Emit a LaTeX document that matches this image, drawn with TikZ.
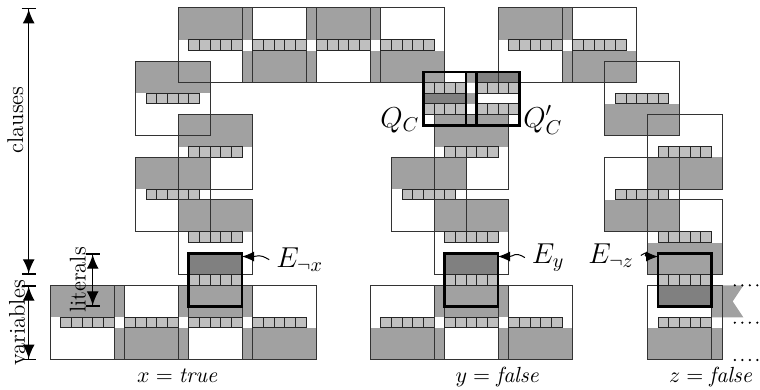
\documentclass[tikz,border=0pt]{standalone}
\usetikzlibrary{arrows.meta}
\begin{document}
\begin{tikzpicture}[x=0.1875cm, y=-0.1875cm,
    every node/.style={font=\fontsize{11.4pt}{13pt}\selectfont},
    region/.style={fill=black!37},
    darkregion/.style={fill=black!50},
    lit/.style={fill=black!25, draw=black!85, line width=0.5pt},
    blockline/.style={draw=black!80, line width=0.5pt},
    gadget/.style={draw=black, line width=1.3pt},
    span/.style={{Bar[width=7pt,line width=0.7pt]Latex[length=7pt,width=6pt]}-{Latex[length=7pt,width=6pt]Bar[width=7pt,line width=0.7pt]}, line width=0.7pt},
    pointer/.style={-{Latex[length=6pt,width=5pt]}, line width=0.5pt},
    tag/.style={font=\Large}]
  \useasboundingbox (-16.69,-0.75) rectangle (54.56,35.81);

  % gray halves of the blocks
  \foreach \x/\y in {0/0, 12/0, 30/0, -4/5, 0/10, -4/14, 0/18, 24/10, 20/14, 24/18, -12/26, 0/26, 24/26}
    \fill[region] (\x,\y) rectangle ++(7,3);
  \foreach \x/\y in {6/0, 18/0, 36/0, 40/5, 44/10, 40/14, 44/18, -6/26, 6/26, 18/26, 30/26, 44/26}
    \fill[region] (\x,\y+4) rectangle ++(7,3);
  \fill[region] (50,26) -- (53,26) -- (52,27.5) -- (53,29) -- (50,29) -- cycle;
  \foreach \y in {6,8,10}
    \fill[region] (27,\y) rectangle ++(1,1);

  % dark parts of the gadgets
  \fill[darkregion] (1,23) rectangle (6,25);
  \fill[darkregion] (25,23) rectangle (30,25);
  \fill[darkregion] (45,26) rectangle (50,28);
  \fill[darkregion] (23,8) rectangle (27,9);
  \fill[darkregion] (28,6) rectangle (32,7);

  % blocks with their literals
  \foreach \x/\y in {0/0, 6/0, 12/0, 18/0, 30/0, 36/0,
                     -4/5, 0/10, -4/14, 0/18, 24/10, 20/14, 24/18,
                     40/5, 44/10, 40/14, 44/18,
                     -12/26, -6/26, 0/26, 6/26, 18/26, 24/26, 30/26, 44/26} {
    \foreach \i in {1,...,5}
      \draw[lit] (\x+\i,\y+3) rectangle ++(1,1);
    \draw[blockline] (\x,\y) rectangle ++(7,7);
  }
  \draw[blockline] (50,26) -- (50,33);
  \foreach \y in {26,29.5,33}
    \draw[line width=1.2pt, line cap=round, dash pattern=on 0pt off 3.75pt] (52.2,\y) -- (55,\y);

  % gadgets
  \foreach \x in {1,25,45}
    \foreach \i in {0,...,4}
      \draw[lit] (\x+\i,25) rectangle ++(1,1);
  \foreach \y in {7,9}
    \foreach \x in {23,24,25,26,28,29,30,31}
      \draw[lit] (\x,\y) rectangle ++(1,1);
  \draw[gadget] (1,23) rectangle ++(5,5);
  \draw[gadget] (25,23) rectangle ++(5,5);
  \draw[gadget] (45,23) rectangle ++(5,5);
  \draw[gadget] (23,6) rectangle (28,11);
  \draw[gadget] (27,6) rectangle (32,11);

  \coordinate (Enx) at (6,23.3);
  \coordinate (Ey) at (30,23.3);
  \coordinate (Enz) at (45,23.3);
  \node[tag] (Lnx) at (11.4,23.6) {$E_{\neg x}$};
  \node[tag] (Ly) at (34.7,23.4) {$E_{y}$};
  \node[tag] (Lnz) at (40.6,23.2) {$E_{\neg z}$};
  \draw[pointer] (Lnx.west) .. controls +(-1,-0.6) and +(1.5,0) .. (Enx);
  \draw[pointer] (Ly.west) .. controls +(-1,-0.6) and +(1.5,0) .. (Ey);
  \draw[pointer] (Lnz.east) .. controls +(1,-0.6) and +(-1.5,0) .. (Enz);

  \node[tag] (Qc) at (20.8,10.5) {$Q_C$};
  \node[tag] (Qcp) at (34.2,10.5) {$Q'_C$};

  % dimension arrows
  \coordinate (ctop) at (-14,0);
  \coordinate (cbot) at (-14,25);
  \coordinate (vtop) at (-14,26);
  \coordinate (vbot) at (-14,33);
  \coordinate (ltop) at (-8,23);
  \coordinate (lbot) at (-8,28);
  \draw[span] (ctop) -- (cbot);
  \draw[span] (vtop) -- (vbot);
  \draw[span] (ltop) -- (lbot);
  \node[rotate=90] (clauses) at (-15.25,10.5) {clauses};
  \node[rotate=90] (variables) at (-15.1,29.5) {variables};
  \node[rotate=90] (literals) at (-9.4,25.5) {literals};

  \node[anchor=base] (xval) at (0,35.1) {$x = \mathit{true}$};
  \node[anchor=base] (yval) at (30,35.1) {$y = \mathit{false}$};
  \node[anchor=base] (zval) at (50,35.1) {$z = \mathit{false}$};
\end{tikzpicture}
\end{document}
